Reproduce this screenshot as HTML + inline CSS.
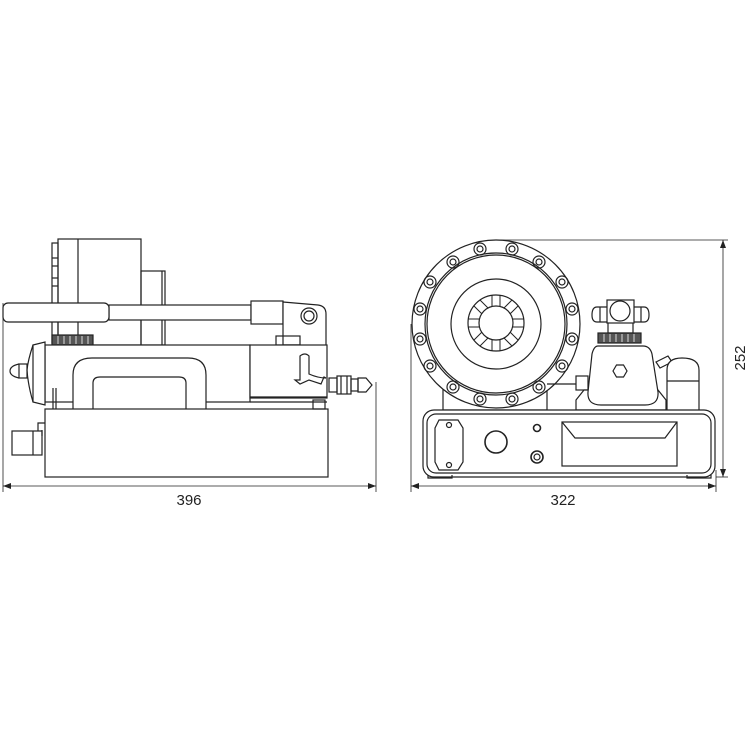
<!DOCTYPE html>
<html><head><meta charset="utf-8"><style>html,body{margin:0;padding:0;background:#fff}svg{display:block}</style></head><body>
<svg width="750" height="750" viewBox="0 0 750 750" xmlns="http://www.w3.org/2000/svg" fill="none" stroke="#222" stroke-width="1.2">
<!-- LEFT VIEW -->
<rect x="58" y="239" width="83" height="106" fill="#fff"/>
<line x1="78" y1="239" x2="78" y2="345"/>
<rect x="52" y="243" width="6" height="100"/>
<line x1="52" y1="258" x2="58" y2="258"/><line x1="52" y1="266" x2="58" y2="266"/>
<line x1="52" y1="278" x2="58" y2="278"/><line x1="52" y1="286" x2="58" y2="286"/>
<rect x="141" y="271" width="24" height="74"/>
<line x1="162" y1="271" x2="162" y2="345"/>
<rect x="109" y="305" width="142" height="15" fill="#fff"/>
<rect x="3" y="303" width="106" height="19" rx="5" fill="#fff"/>
<rect x="251" y="301" width="32" height="23" fill="#fff"/>
<path d="M283 302 L318 305 Q326 306 326 314 L326 380 L300 380 L300 345 L283 345 Z" fill="#fff"/>
<circle cx="309" cy="316" r="8"/><circle cx="309" cy="316" r="5"/>
<rect x="276" y="336" width="24" height="9"/>
<rect x="52" y="335" width="41" height="10" fill="#555"/>
<g stroke="#fff" stroke-width="0.8"><line x1="58" y1="336" x2="58" y2="344"/><line x1="64" y1="336" x2="64" y2="344"/><line x1="70" y1="336" x2="70" y2="344"/><line x1="76" y1="336" x2="76" y2="344"/><line x1="82" y1="336" x2="82" y2="344"/><line x1="88" y1="336" x2="88" y2="344"/></g>
<rect x="45" y="345" width="205" height="57" fill="#fff"/>
<rect x="250" y="345" width="77" height="53" fill="#fff"/>
<line x1="250" y1="397" x2="327" y2="397"/><line x1="250" y1="402" x2="327" y2="402"/>
<path d="M300 380 L300 356 Q305 352 309 356 L309 374 Q318 378 326 378 L324 377 L321 384 L309 380 L300 384 L295 380 Z" fill="#fff"/>
<path d="M33 345 L45 342 L45 405 L33 402 Z" fill="#fff"/>
<path d="M33 345 Q28 360 27 370 Q28 385 33 402"/>
<rect x="19" y="364" width="8" height="14"/>
<path d="M19 364 Q10 366 10 371 Q10 376 19 378"/>
<line x1="53" y1="388" x2="53" y2="410"/><line x1="56" y1="388" x2="56" y2="410"/>
<path d="M73 409 L73 375 Q73 358 92 358 L188 358 Q206 358 206 375 L206 409" fill="#fff"/>
<path d="M93 409 L93 383 Q93 377 100 377 L179 377 Q186 377 186 383 L186 409"/>
<rect x="45" y="409" width="283" height="68" fill="#fff"/>
<rect x="313" y="400" width="12" height="9"/>
<rect x="12" y="431" width="30" height="24"/>
<line x1="33" y1="431" x2="33" y2="455"/>
<path d="M38 431 L38 423 L45 423"/><path d="M42 436 L42 430"/>
<rect x="329" y="378" width="8" height="14"/>
<rect x="337" y="376" width="14" height="18"/>
<line x1="341" y1="376" x2="341" y2="394"/><line x1="347" y1="376" x2="347" y2="394"/>
<rect x="351" y="379" width="7" height="12"/>
<path d="M358 378 L366 378 L372 385 L366 392 L358 392 Z"/>
<line x1="3" y1="303" x2="3" y2="492" stroke-width="0.8"/>
<line x1="376" y1="382" x2="376" y2="492" stroke-width="0.8"/>
<line x1="3" y1="486" x2="376" y2="486" stroke-width="0.8"/>
<path d="M3 486 l8 -3 v6 z M376 486 l-8 -3 v6 z" fill="#222" stroke="none"/>
<text x="189" y="505" font-family="Liberation Sans, sans-serif" font-size="15" fill="#222" stroke="none" text-anchor="middle">396</text>

<!-- RIGHT VIEW -->
<rect x="443" y="382" width="104" height="28" fill="#fff"/>
<circle cx="496" cy="324" r="84" fill="#fff"/>
<circle cx="496" cy="324" r="71"/>
<circle cx="496" cy="324" r="69"/>
<circle cx="496" cy="324" r="45"/>
<circle cx="496" cy="323" r="28"/>
<circle cx="496" cy="323" r="17"/>
<g stroke-width="1">
<path d="M492 295 L492 306 M500 295 L500 306 M492 340 L492 351 M500 340 L500 351 M468 319 L479 319 M468 327 L479 327 M513 319 L524 319 M513 327 L524 327"/>
<path d="M474 306 L482 314 M480 300 L488 308 M512 300 L504 308 M518 306 L510 314 M474 340 L482 332 M480 346 L488 338 M512 346 L504 338 M518 340 L510 332"/>
</g>
<g>
<circle cx="480" cy="249" r="6"/><circle cx="480" cy="249" r="3"/>
<circle cx="512" cy="249" r="6"/><circle cx="512" cy="249" r="3"/>
<circle cx="453" cy="262" r="6"/><circle cx="453" cy="262" r="3"/>
<circle cx="539" cy="262" r="6"/><circle cx="539" cy="262" r="3"/>
<circle cx="430" cy="282" r="6"/><circle cx="430" cy="282" r="3"/>
<circle cx="562" cy="282" r="6"/><circle cx="562" cy="282" r="3"/>
<circle cx="420" cy="309" r="6"/><circle cx="420" cy="309" r="3"/>
<circle cx="572" cy="309" r="6"/><circle cx="572" cy="309" r="3"/>
<circle cx="420" cy="339" r="6"/><circle cx="420" cy="339" r="3"/>
<circle cx="572" cy="339" r="6"/><circle cx="572" cy="339" r="3"/>
<circle cx="430" cy="366" r="6"/><circle cx="430" cy="366" r="3"/>
<circle cx="562" cy="366" r="6"/><circle cx="562" cy="366" r="3"/>
<circle cx="453" cy="387" r="6"/><circle cx="453" cy="387" r="3"/>
<circle cx="539" cy="387" r="6"/><circle cx="539" cy="387" r="3"/>
<circle cx="480" cy="399" r="6"/><circle cx="480" cy="399" r="3"/>
<circle cx="512" cy="399" r="6"/><circle cx="512" cy="399" r="3"/>
</g>
<!-- pump -->
<rect x="576" y="376" width="12" height="14"/>
<line x1="547" y1="384" x2="576" y2="384"/>
<path d="M576 400 L584 390 L658 390 L666 400 L666 410 L576 410 Z" fill="#fff"/>
<path d="M598 346 L643 346 Q650 346 652 354 L658 392 Q659 405 645 405 L601 405 Q587 405 588 392 L592 354 Q594 346 598 346 Z" fill="#fff"/>
<path d="M613 371 l3.5 -6 h7 l3.5 6 l-3.5 6 h-7 z"/>
<path d="M656 362 L668 356 L672 362 L660 368 Z" fill="#fff"/>
<path d="M667 410 L667 370 Q667 358 682 358 Q699 358 699 370 L699 410" fill="#fff"/>
<line x1="667" y1="381" x2="699" y2="381"/>
<rect x="598" y="333" width="43" height="10" fill="#555"/>
<g stroke="#fff" stroke-width="0.8"><line x1="604" y1="334" x2="604" y2="342"/><line x1="610" y1="334" x2="610" y2="342"/><line x1="616" y1="334" x2="616" y2="342"/><line x1="622" y1="334" x2="622" y2="342"/><line x1="628" y1="334" x2="628" y2="342"/><line x1="634" y1="334" x2="634" y2="342"/></g>
<rect x="608" y="322" width="25" height="11"/>
<rect x="607" y="300" width="27" height="23" fill="#fff"/>
<circle cx="620" cy="311" r="10"/>
<path d="M607 307 L597 307 Q592 307 592 315 Q592 322 597 322 L607 322"/>
<line x1="600" y1="307" x2="600" y2="322"/>
<path d="M634 307 L644 307 Q649 307 649 315 Q649 322 644 322 L634 322"/>
<line x1="641" y1="307" x2="641" y2="322"/>
<!-- base -->
<rect x="423" y="410" width="292" height="67" rx="11" fill="#fff"/>
<rect x="427" y="414" width="284" height="59" rx="9"/>
<path d="M428 475 L428 478 L452 478 L452 475 M687 475 L687 478 L711 478 L711 475"/>
<path d="M439 420 L458 420 L463 428 L463 462 L458 470 L439 470 L435 462 L435 428 Z"/>
<circle cx="449" cy="425" r="2.5"/><circle cx="449" cy="465" r="2.5"/>
<circle cx="496" cy="442" r="11" stroke-width="1.6"/>
<circle cx="537" cy="428" r="3.5" stroke-width="1.6"/>
<circle cx="537" cy="457" r="6" stroke-width="1.6"/><circle cx="537" cy="457" r="3"/>
<rect x="562" y="422" width="115" height="44"/>
<path d="M562 422 L575 438 L665 438 L677 422"/>
<!-- dims -->
<line x1="498" y1="240" x2="728" y2="240" stroke-width="0.8"/>
<line x1="716" y1="477" x2="728" y2="477" stroke-width="0.8"/>
<line x1="723" y1="240" x2="723" y2="477" stroke-width="0.8"/>
<path d="M723 240 l-3 8 h6 z M723 477 l-3 -8 h6 z" fill="#222" stroke="none"/>
<line x1="411" y1="324" x2="411" y2="492" stroke-width="0.8"/>
<line x1="716" y1="470" x2="716" y2="492" stroke-width="0.8"/>
<line x1="411" y1="486" x2="716" y2="486" stroke-width="0.8"/>
<path d="M411 486 l8 -3 v6 z M716 486 l-8 -3 v6 z" fill="#222" stroke="none"/>
<text x="563" y="505" font-family="Liberation Sans, sans-serif" font-size="15" fill="#222" stroke="none" text-anchor="middle">322</text>
<text transform="translate(745 358) rotate(-90)" font-family="Liberation Sans, sans-serif" font-size="15" fill="#222" stroke="none" text-anchor="middle">252</text>
</svg>
</body></html>
